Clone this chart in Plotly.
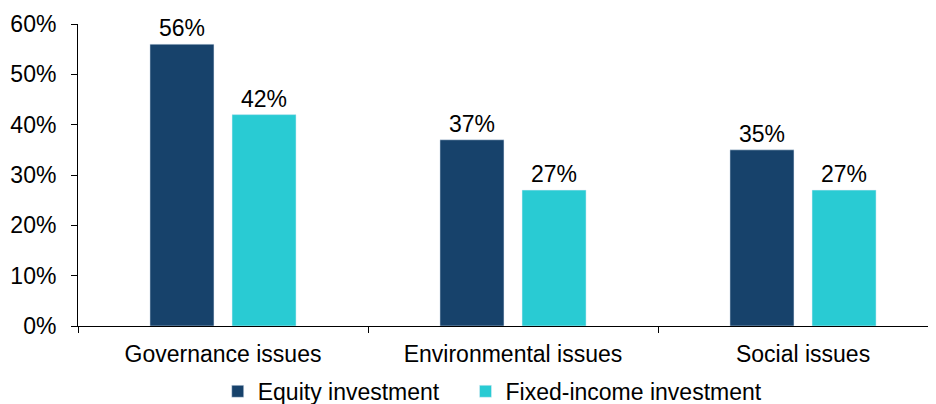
import plotly.graph_objects as go

categories = ["Governance issues", "Environmental issues", "Social issues"]
equity = [56, 37, 35]
fixed_income = [42, 27, 27]
y_ticks = [0, 10, 20, 30, 40, 50, 60]
y_tick_labels = [f"{v}%" for v in y_ticks]

font_family = "Liberation Sans, Arial, sans-serif"
fs = 23

fig = go.Figure()
fig.add_trace(go.Bar(
    x=categories, y=equity, name="Equity investment",
    marker=dict(color="#17426B"),
    text=[f"{v}%" for v in equity], textposition="outside",
    textfont=dict(size=fs, color="#000000", family=font_family),
    cliponaxis=False, legend="legend",
))
fig.add_trace(go.Bar(
    x=categories, y=fixed_income, name="Fixed-income investment",
    marker=dict(color="#29CBD3"),
    text=[f"{v}%" for v in fixed_income], textposition="outside",
    textfont=dict(size=fs, color="#000000", family=font_family),
    cliponaxis=False, legend="legend2",
))

legend_common = dict(orientation="h", xanchor="left", xref="container",
                     yanchor="middle", yref="container", y=0.032,
                     font=dict(size=fs), itemwidth=30, tracegroupgap=0)

fig.update_layout(
    width=928, height=396,
    margin=dict(l=70, r=0, t=16, b=78),
    paper_bgcolor="white", plot_bgcolor="white",
    barmode="group", bargap=0.434, bargroupgap=0.22,
    font=dict(family=font_family, size=fs, color="#000000"),
    showlegend=True,
    legend=dict(x=0.226, **legend_common),
    legend2=dict(x=0.493, **legend_common),
)
fig.update_xaxes(
    range=[-0.5, 2.4586], automargin=False,
    showline=True, linecolor="#000000", linewidth=1,
    ticks="outside", tickson="boundaries", ticklen=6, tickcolor="#000000",
    showgrid=False, zeroline=False,
    tickfont=dict(size=fs), ticklabelstandoff=7,
)
fig.update_yaxes(
    range=[0, 60], tickvals=y_ticks, ticktext=y_tick_labels, automargin=False,
    showline=True, linecolor="#000000", linewidth=1,
    ticks="outside", ticklen=6, tickcolor="#000000",
    showgrid=False, zeroline=False,
    tickfont=dict(size=fs), ticklabelstandoff=10,
)

fig.write_html("out.html")
